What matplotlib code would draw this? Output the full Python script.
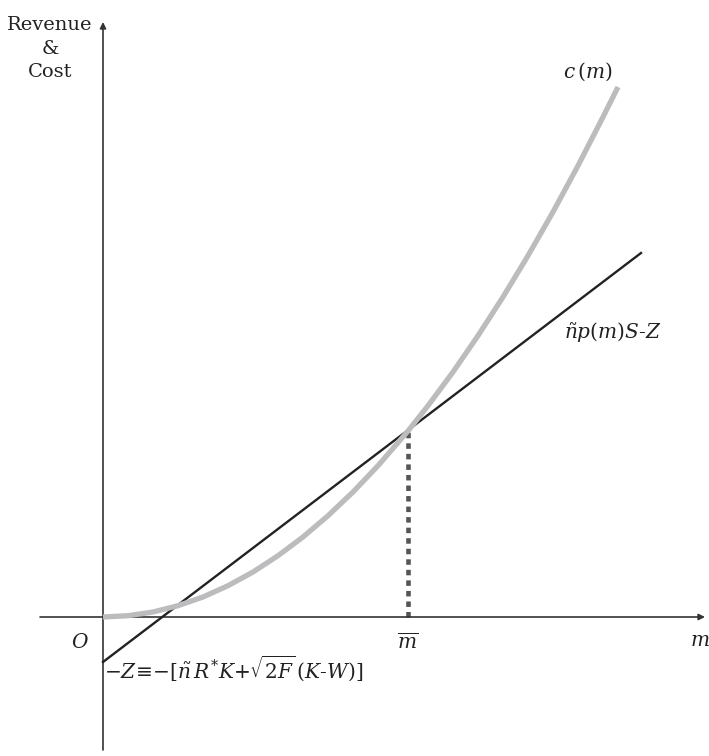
import matplotlib.pyplot as plt
import numpy as np

plt.rcParams['font.family'] = 'DejaVu Serif'
plt.rcParams['mathtext.fontset'] = 'dejavuserif'

# cost curve c(m)
m_cost = [0, 0.25, 0.5, 0.75, 1.0, 1.25, 1.5, 1.75, 2.0, 2.25, 2.5, 2.75,
          3.05, 3.25, 3.5, 3.75, 4.0, 4.25, 4.5, 4.75, 5.0, 5.15]
c_cost = [0, 0.013, 0.05, 0.113, 0.2, 0.313, 0.45, 0.613, 0.8, 1.013, 1.25,
          1.513, 1.86, 2.113, 2.45, 2.813, 3.2, 3.613, 4.05, 4.513, 5.0, 5.30]

# revenue line n p(m) S - Z
m_rev = [0, 5.38]
r_rev = [-0.45, 3.64]

m_bar = 3.05
c_bar = 1.86

fig = plt.figure(figsize=(7.09, 7.56), dpi=100)
ax = fig.add_axes([0, 0, 1, 1])
ax.set_xlim(-1.03, 6.06)
ax.set_ylim(-1.39, 6.17)
ax.axis("off")

axis_col = '#333333'
# axes with arrows
ax.annotate('', xy=(6.02, 0), xytext=(-0.63, 0),
            arrowprops=dict(arrowstyle='-|>', color=axis_col, lw=1.2,
                            mutation_scale=9, shrinkA=0, shrinkB=0))
ax.annotate('', xy=(0, 5.95), xytext=(0, -1.33),
            arrowprops=dict(arrowstyle='-|>', color=axis_col, lw=1.2,
                            mutation_scale=9, shrinkA=0, shrinkB=0))

# dotted drop line
ax.plot([m_bar, m_bar], [0, c_bar], color='#555555', lw=3.3,
        linestyle=(0, (1.2, 1.1)), dash_capstyle='butt', zorder=2)

# revenue line
ax.plot(m_rev, r_rev, color='#222222', lw=1.7, zorder=3)

# cost curve
ax.plot(m_cost, c_cost, color='#bcbcbe', lw=3.8, solid_capstyle='butt',
        solid_joinstyle='round', zorder=4)

fs = 14.5
txt_col = '#222222'
ax.text(-0.53, 6.01, "Revenue\n&\nCost", ha='center', va='top',
        fontsize=14, color=txt_col, linespacing=1.4)
ax.text(4.85, 5.45, r"$c\,(m)$", ha='center', va='center', fontsize=fs, color=txt_col)
ax.text(5.10, 2.84, r"$\tilde{n}p(m)S$-$Z$", ha='center', va='center', fontsize=fs, color=txt_col)
ax.text(m_bar, -0.25, r"$\overline{m}$", ha='center', va='center', fontsize=fs, color=txt_col)
ax.text(5.97, -0.23, r"$m$", ha='center', va='center', fontsize=fs, color=txt_col)
ax.text(-0.23, -0.26, r"$O$", ha='center', va='center', fontsize=fs, color=txt_col)
ax.text(0.01, -0.51, r"${-}Z\!\equiv\!{-}[\tilde{n}\,R^{*}K$+$\sqrt{2F}\,(K$-$W)]$",
        ha='left', va='center', fontsize=fs, color=txt_col)

fig.savefig("out.png", dpi=100)
